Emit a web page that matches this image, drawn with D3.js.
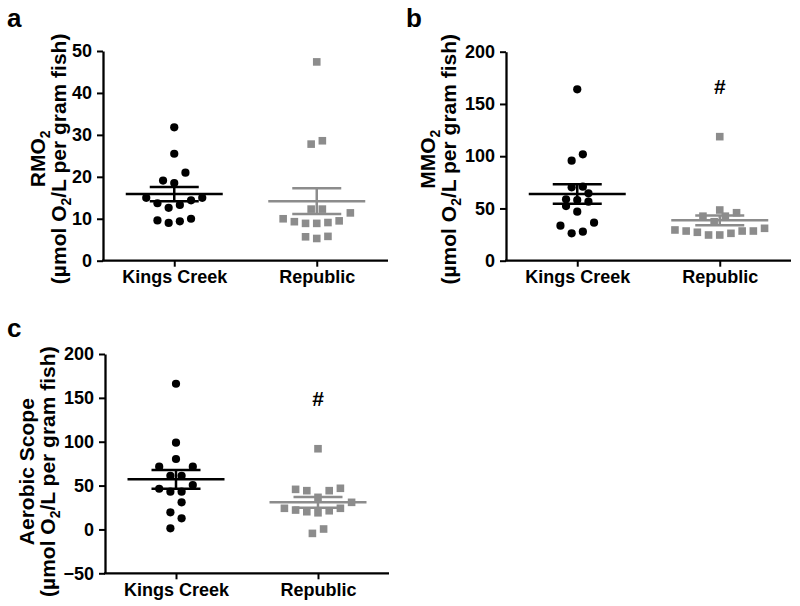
<!DOCTYPE html>
<html><head><meta charset="utf-8">
<script src="https://cdn.jsdelivr.net/npm/d3@7"></script>
<style>
body{margin:0;background:#fff}
svg text{font-family:"Liberation Sans",Arial,Helvetica,sans-serif;font-weight:bold;fill:#000}
</style>
</head><body>
<svg id="fig" width="800" height="606"></svg>
<script>
// ---------------- data ----------------
const categories = ["Kings Creek", "Republic"];

const rmoKings    = [31.8,25.5,21.0,19.1,18.5,15.0,15.0,14.4,13.7,13.3,12.6,10.0,9.6,9.4,9.0];
const rmoRepublic = [47.4,28.6,27.8,12.3,12.3,11.4,10.0,9.5,9.3,9.1,8.9,8.9,5.8,5.7,5.3];
const rmoMeans = [15.9, 14.2];
const rmoSems  = [1.7, 3.05];
const rmoTicks = [0,10,20,30,40,50];
const rmoMarks = ["", ""];

const mmoKings    = [164.0,101.8,95.7,70.8,70.2,64.5,58.8,58.0,56.5,52.3,46.9,36.4,33.5,27.8,26.2];
const mmoRepublic = [118.7,48.5,45.9,42.6,42.6,37.3,31.0,29.4,28.4,28.4,28.4,27.2,26.2,24.6,24.6];
const mmoMeans = [63.8, 38.6];
const mmoSems  = [9.4, 4.75];
const mmoTicks = [0,50,100,150,200];
const mmoMarks = ["", "#"];

const asKings    = [166.1,98.9,80.3,71.5,71.5,61.2,61.2,50.6,46.4,43.0,43.0,30.9,19.5,12.7,1.3];
const asRepublic = [92.0,46.9,45.7,44.2,44.2,36.6,30.9,24.1,24.1,22.1,21.3,20.2,19.0,0.5,-4.5];
const asMeans = [57.1, 30.9];
const asSems  = [10.6, 6.05];
const asTicks = [-50,0,50,100,150,200];
const asMarks = ["", "#"];

// ---------------- layout / style ----------------
const GRAY = "#8c8c8c";
const colors = ["#000000", GRAY];
const svg = d3.select("#fig");

const panels = [
  {letter:"a", letterPos:[7,27], groups:[rmoKings, rmoRepublic], means:rmoMeans, sems:rmoSems,
   ticks:rmoTicks, marks:rmoMarks, domain:[0,50], xr:[103,388], yr:[260.7,51],
   title1:[["RMO",false],["2",true]], titleX:[45,66], titleShift:3},
  {letter:"b", letterPos:[406,27], groups:[mmoKings, mmoRepublic], means:mmoMeans, sems:mmoSems,
   ticks:mmoTicks, marks:mmoMarks, domain:[0,200], xr:[506,791], yr:[260.7,51.7],
   title1:[["MMO",false],["2",true]], titleX:[435,456], titleShift:3},
  {letter:"c", letterPos:[7,337], groups:[asKings, asRepublic], means:asMeans, sems:asSems,
   ticks:asTicks, marks:asMarks, domain:[-50,200], xr:[105,389], yr:[573.3,354],
   title1:[["Aerobic Scope",false]], titleX:[34,55], titleShift:8}
];
const title2 = [["(µmol O",false],["2",true],["/L per gram fish)",false]];
const TITLE_SIZE = 21;

function addRich(textSel, parts, size){
  parts.forEach(([s,sub]) => {
    const t = textSel.append("tspan").text(s);
    if (sub) t.style("font-size", Math.round(size*0.65) + "px").attr("dy", 5);
    else if (textSel.selectAll("tspan").size() > 1) t.attr("dy", -5);
  });
}

function swarm(values, y, cx, step, thresh){
  const pts = values.map(v => ({v})).sort((a,b) => a.v - b.v);
  const rows = []; let cur = [];
  pts.forEach(p => {
    if (cur.length && (y(cur[0].v) - y(p.v)) > thresh) { rows.push(cur); cur = []; }
    cur.push(p);
  });
  if (cur.length) rows.push(cur);
  rows.forEach(r => {
    const n = r.length;
    r.forEach((p,i) => {
      let off;
      if (n % 2) { const k = Math.ceil(i/2); off = (i===0)?0:(i%2? -k : k); }
      else { const k = Math.floor(i/2) + 0.5; off = (i%2===0) ? -k : k; }
      p.x = cx + off*step; p.y = y(p.v);
    });
  });
  return pts;
}

panels.forEach(P => {
  const g = svg.append("g");
  const x = d3.scalePoint().domain(categories).range(P.xr).padding(0.5);
  const y = d3.scaleLinear().domain(P.domain).range(P.yr);

  // points
  P.groups.forEach((vals, gi) => {
    const pts = swarm(vals, y, x(categories[gi]), 11.2, 11.5);
    if (gi === 0) {
      g.selectAll(null).data(pts).join("circle")
        .attr("cx", d => d.x).attr("cy", d => d.y).attr("r", 4.1).attr("fill", colors[0]);
    } else {
      g.selectAll(null).data(pts).join("rect")
        .attr("x", d => d.x - 3.8).attr("y", d => d.y - 3.8)
        .attr("width", 7.6).attr("height", 7.6).attr("fill", colors[1]);
    }
    if (P.marks[gi]) {
      g.append("text").attr("x", x(categories[gi])).attr("y", y(d3.max(vals)) - 50)
        .attr("text-anchor","middle").attr("dominant-baseline","central")
        .style("font-size", "21px").text(P.marks[gi]);
    }
  });

  // mean & SEM
  categories.forEach((c, gi) => {
    const cx = x(c), m = P.means[gi], s = P.sems[gi];
    const lg = g.append("g").attr("stroke", colors[gi]).attr("stroke-width", 2.5);
    lg.append("line").attr("x1", cx-48.5).attr("x2", cx+48.5).attr("y1", y(m)).attr("y2", y(m));
    lg.append("line").attr("x1", cx).attr("x2", cx).attr("y1", y(m-s)).attr("y2", y(m+s));
    [m-s, m+s].forEach(v => lg.append("line").attr("x1", cx-24.5).attr("x2", cx+24.5).attr("y1", y(v)).attr("y2", y(v)));
  });

  // axes
  const yAxis = g.append("g").attr("transform", `translate(${P.xr[0]},0)`)
    .call(d3.axisLeft(y).tickValues(P.ticks).tickSize(6).tickSizeOuter(0).tickPadding(5).tickFormat(d3.format("d")));
  const xAxis = g.append("g").attr("transform", `translate(0,${P.yr[0]})`)
    .call(d3.axisBottom(x).tickSize(6).tickSizeOuter(0).tickPadding(5));
  [yAxis, xAxis].forEach(a => {
    a.select(".domain").attr("stroke", "#000").attr("stroke-width", 2.3);
    a.selectAll(".tick line").attr("stroke", "#000").attr("stroke-width", 2);
    a.selectAll("text").attr("font-family", null).attr("font-size", null).style("font-size","18px").attr("fill","#000");
  });
  xAxis.select(".domain").attr("d", `M${P.xr[0]-1},0H${P.xr[1]}`);
  xAxis.selectAll(".tick text").attr("dy", null).attr("y", 22.5);

  // axis titles
  const cy = (P.yr[0] + P.yr[1]) / 2 + P.titleShift;
  const t1 = g.append("text").attr("transform", `translate(${P.titleX[0]},${cy}) rotate(-90)`)
    .attr("text-anchor","middle").style("font-size", TITLE_SIZE + "px");
  addRich(t1, P.title1, TITLE_SIZE);
  const t2 = g.append("text").attr("transform", `translate(${P.titleX[1]},${cy}) rotate(-90)`)
    .attr("text-anchor","middle").style("font-size", TITLE_SIZE + "px");
  addRich(t2, title2, TITLE_SIZE);

  // panel letter
  g.append("text").attr("x", P.letterPos[0]).attr("y", P.letterPos[1]).style("font-size","26px").text(P.letter);
});
</script>
</body></html>
